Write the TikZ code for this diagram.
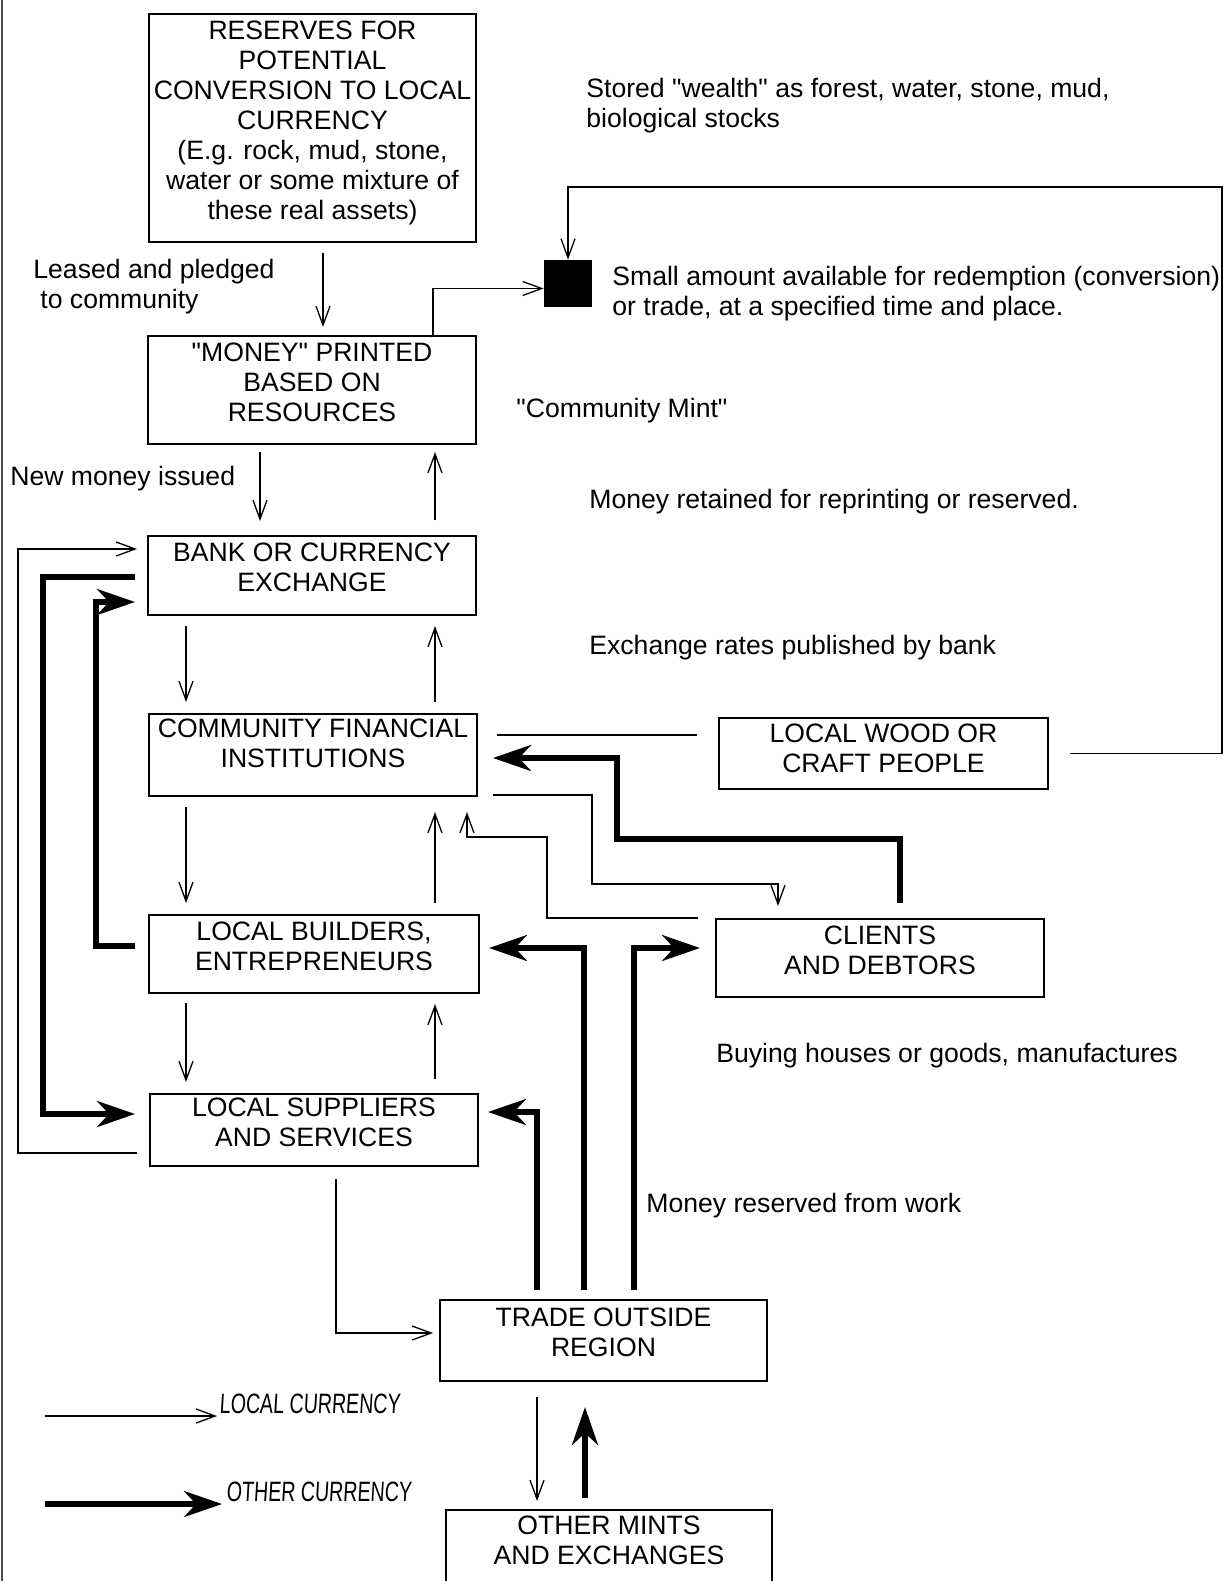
\documentclass[tikz,border=0pt]{standalone}
\usepackage{fontspec}
\setmainfont{Liberation Sans}
\newfontfamily\handfont[FakeStretch=0.7,FakeSlant=0.06]{Liberation Sans}
\usetikzlibrary{arrows.meta,calc}
\newcommand{\dq}{\textquotedbl}
\tikzset{
  box/.style={draw, line width=1pt, inner sep=0pt, align=center,
    font=\fontsize{13.3}{15}\selectfont, text depth=8pt},
  lbl/.style={anchor=west, align=left, inner sep=0pt,
    font=\fontsize{13.3}{15}\selectfont},
  hand/.style={anchor=west, inner sep=0pt, font=\handfont\fontsize{14}{15}\selectfont},
  lc/.style={line width=0.65pt, -{Straight Barb[length=9.5pt,width=7pt]}},
  lcline/.style={line width=0.65pt},
  oc/.style={line width=2.6pt, -{Stealth[length=19pt,width=13pt,inset=6pt]}},
}
\begin{document}
\begin{tikzpicture}[x=0.5pt,y=-0.5pt]
\useasboundingbox (0,0) rectangle (1224,1581);
\fill[white] (0,0) rectangle (1224,1581);
\draw[gray!60!black, line width=1.2pt] (2,0) -- (2,1581);

% boxes
\node[box, minimum width=163.5pt, minimum height=114pt] (res) at (312.5,128)
  {RESERVES FOR\\POTENTIAL\\CONVERSION TO LOCAL\\CURRENCY\\(E.g. rock, mud, stone,\\water or some mixture of\\these real assets)};
\node[box, minimum width=164pt, minimum height=54pt] (money) at (312,390)
  {\dq MONEY\dq{} PRINTED\\BASED ON\\RESOURCES};
\node[fill=black, minimum width=24pt, minimum height=23.5pt, inner sep=0pt] (sq) at (568,283.5) {};
\node[box, minimum width=164pt, minimum height=39.5pt] (bank) at (312,575.5)
  {BANK OR CURRENCY\\EXCHANGE};
\node[box, minimum width=164pt, minimum height=41pt, text depth=12pt] (cfi) at (313,755)
  {COMMUNITY FINANCIAL\\INSTITUTIONS};
\node[box, minimum width=164.5pt, minimum height=35.5pt, text depth=5pt] (wood) at (883.5,753.5)
  {LOCAL WOOD OR\\CRAFT PEOPLE};
\node[box, minimum width=164pt, minimum height=39pt] (clients) at (880,958)
  {CLIENTS\\AND DEBTORS};
\node[box, minimum width=165pt, minimum height=39pt] (build) at (314,954)
  {LOCAL BUILDERS,\\ENTREPRENEURS};
\node[box, minimum width=164pt, minimum height=36pt] (supp) at (314,1130)
  {LOCAL SUPPLIERS\\AND SERVICES};
\node[box, minimum width=163.5pt, minimum height=40.5pt] (trade) at (603.5,1340.5)
  {TRADE OUTSIDE\\REGION};
\node[box, minimum width=163pt, minimum height=37pt, text depth=7pt] (mints) at (609,1547)
  {OTHER MINTS\\AND EXCHANGES};

% free labels
\node[lbl] (stored) at (586,105.5) {Stored \dq wealth\dq{} as forest, water, stone, mud,\\biological stocks};
\node[lbl] (leased) at (33,287) {Leased and pledged\\\hspace*{3.5pt}to community};
\node[lbl] (small) at (612,293.5) {Small amount available for redemption (conversion)\\or trade, at a specified time and place.};
\node[lbl] (mint) at (516,411) {\dq Community Mint\dq};
\node[lbl] (newm) at (10,479) {New money issued};
\node[lbl] (retained) at (589,502) {Money retained for reprinting or reserved.};
\node[lbl] (rates) at (589,648) {Exchange rates published by bank};
\node[lbl] (buying) at (716,1056) {Buying houses or goods, manufactures};
\node[lbl] (work) at (646,1206) {Money reserved from work};

% connectors: local currency (thin)
\draw[lc, shorten <=5pt, shorten >=4pt] (323,0 |- res.south) -- (323,0 |- money.north);
\draw[lc] (433,0 |- money.north) |- ([yshift=-2.5pt]sq.west);
\draw[lc, shorten <=10.5pt] (wood.east) -| (1222,187) -| (sq.north);
\draw[lc, shorten <=3.5pt, shorten >=7pt] (260,0 |- money.south) -- (260,0 |- bank.north);
\draw[lc, shorten <=7.5pt, shorten >=3.5pt] (435,0 |- bank.north) -- (435,0 |- money.south);
\draw[lc] ([xshift=-6pt,yshift=-11.5pt]supp.west) -| (18,549) -- ([xshift=-5pt,yshift=13.25pt]bank.west);
\draw[lc, shorten <=5pt, shorten >=5.5pt] (186,0 |- bank.south) -- (186,0 |- cfi.north);
\draw[lc, shorten <=5.5pt, shorten >=5pt] (435,0 |- cfi.north) -- (435,0 |- bank.south);
\draw[lcline] ([xshift=9.5pt,yshift=10pt]cfi.east) -- ([xshift=-10.5pt,yshift=9.25pt]wood.west);
\draw[lc, shorten <=5pt, shorten >=5.5pt] (186,0 |- cfi.south) -- (186,0 |- build.north);
\draw[lc, shorten <=5.5pt, shorten >=7.5pt] (435,0 |- build.north) -- (435,0 |- cfi.south);
\draw[lc] ([xshift=-8.5pt]clients.north west) -| (547,837) -| ([xshift=-5.5pt,yshift=-7.5pt]cfi.south east);
\draw[lc] ([xshift=7.5pt,yshift=1pt]cfi.south east) -| (592,884) -| ([xshift=-51pt,yshift=6pt]clients.north);
\draw[lc, shorten <=4.5pt, shorten >=5.5pt] (186,0 |- build.south) -- (186,0 |- supp.north);
\draw[lc, shorten <=7pt, shorten >=5pt] (435,0 |- supp.north) -- (435,0 |- build.south);
\draw[lc] ([xshift=11pt,yshift=-6pt]supp.south) |- ([xshift=-3pt,yshift=3.75pt]trade.west);
\draw[lc, shorten <=7.5pt, shorten >=4pt] (537,0 |- trade.south) -- (537,0 |- mints.north);

% connectors: other currency (thick)
\draw[oc] ([xshift=-6pt,yshift=-0.75pt]bank.west) -| (43,1114) -- ([xshift=-7pt,yshift=8pt]supp.west);
\draw[oc] ([xshift=-6.5pt,yshift=4pt]build.west) -| (96,602) -- ([xshift=-6pt,yshift=-13.25pt]bank.west);
\draw[oc] ([xshift=10pt,yshift=7.5pt]clients.north) |- (617,839) |- ([xshift=7.5pt,yshift=-1.5pt]cfi.east);
\draw[oc] ([xshift=-9.75pt,yshift=4.5pt]trade.north) |- ([xshift=4.5pt,yshift=3pt]build.east);
\draw[oc] ([xshift=15.25pt,yshift=4.5pt]trade.north) |- ([xshift=-7.5pt,yshift=5pt]clients.west);
\draw[oc] ([xshift=-33.25pt,yshift=4.5pt]trade.north) |- ([xshift=4.5pt,yshift=9pt]supp.east);
\draw[oc, shorten <=5.5pt, shorten >=12.5pt] (585,0 |- mints.north) -- (585,0 |- trade.south);

% legend
\coordinate (la) at (45,1416);
\coordinate (lb) at (217,1416);
\coordinate (oa) at (45,1504);
\coordinate (ob) at (222,1504);
\draw[lc] (la) -- (lb);
\draw[oc] (oa) -- (ob);
\node[hand] (lctext) at (219,1404) {LOCAL CURRENCY};
\node[hand] (octext) at (226,1492) {OTHER CURRENCY};
\end{tikzpicture}
\end{document}
